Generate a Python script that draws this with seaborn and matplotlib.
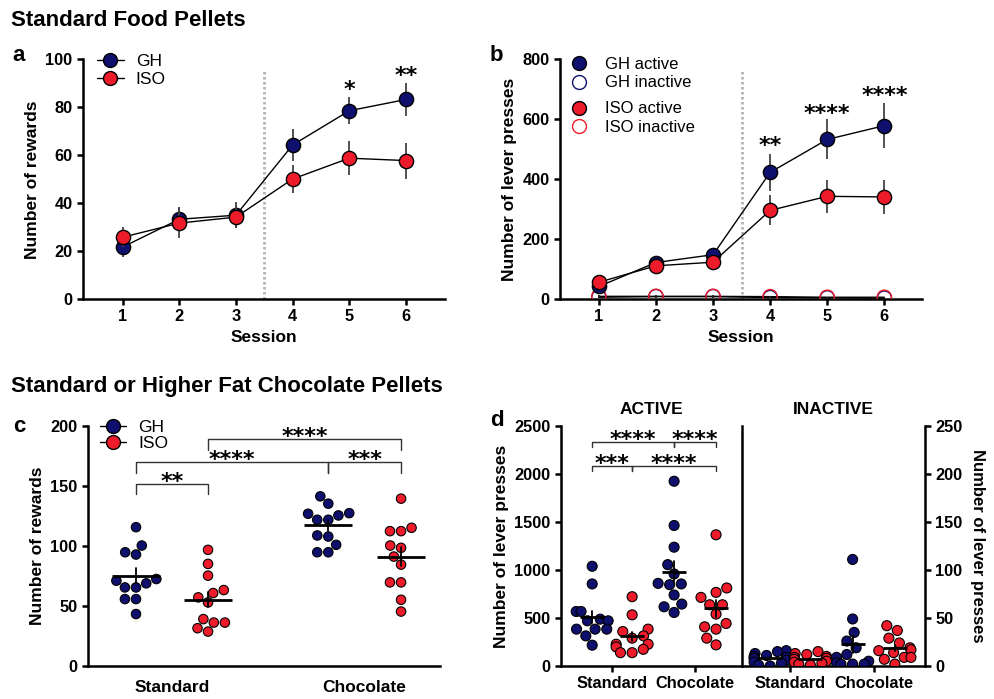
import numpy as np
import pandas as pd
import matplotlib
matplotlib.use("Agg")
import matplotlib.pyplot as plt
from matplotlib.lines import Line2D
import seaborn as sns

# ---- data ----
sessions = [1, 2, 3, 4, 5, 6]

# a: rewards (mean, sem)
a_gh = [21.7, 33.3, 35.0, 64.3, 78.6, 83.3]
a_gh_sem = [4.0, 5.0, 5.3, 6.5, 5.6, 7.0]
a_iso = [25.8, 31.7, 34.2, 50.1, 58.8, 57.8]
a_iso_sem = [4.2, 6.3, 4.6, 5.8, 7.0, 7.5]
a_stars = ["", "", "", "", "*", "**"]
a_star_y = [0, 0, 0, 0, 90, 96]

# b: lever presses (mean, sem)
b_gh_act = [42, 122, 148, 423, 533, 579]
b_gh_act_sem = [12, 15, 12, 63, 67, 76]
b_gh_inact = [6, 8, 8, 5, 4, 3]
b_iso_act = [56, 111, 123, 296, 343, 341]
b_iso_act_sem = [12, 20, 22, 50, 56, 56]
b_iso_inact = [9, 9, 9, 8, 6, 6]
b_inact_sem = [3, 3, 3, 3, 2, 2]
b_stars = ["", "", "", "**", "****", "****"]
b_star_y = [0, 0, 0, 533, 640, 700]

# c: rewards per rat, standard vs chocolate pellets
c_gh_std = [115.7, 100.4, 94.8, 92.9, 72.5, 68.9, 71.1, 65.5, 65.5, 55.8, 55.8, 43.3]
c_iso_std = [96.8, 85.1, 75.3, 63.3, 57.2, 60.8, 53.0, 39.1, 36.2, 31.5, 36.2, 28.7]
c_gh_choc = [141.4, 135.3, 126.9, 125.5, 127.4, 121.9, 121.9, 108.8, 107.9, 101.0, 94.8, 94.8]
c_iso_choc = [139.5, 115.2, 112.4, 112.4, 100.4, 98.5, 91.2, 84.5, 69.7, 69.7, 55.2, 45.4]
c_pos = [0, 1, 2.67, 3.68]
c_br_x1 = [0, 0, 2.67, 1]
c_br_x2 = [1, 2.67, 3.68, 3.68]
c_br_y = [152, 170, 170, 189]
c_br_lbl = ["**", "****", "***", "****"]

# d: lever presses per rat, active and inactive lever
d_act_gh_std = [1039, 855, 568, 568, 488, 471, 471, 384, 384, 384, 314, 217]
d_act_iso_std = [722, 533, 384, 359, 314, 290, 227, 227, 199, 174, 139, 139]
d_act_gh_choc = [1925, 1464, 1238, 1056, 959, 861, 855, 847, 740, 617, 645, 558]
d_act_iso_choc = [1367, 813, 767, 715, 638, 638, 541, 443, 384, 408, 290, 220]
d_in_gh_std = [16, 15, 13, 11, 10, 9, 8, 6, 4, 3, 1, 0]
d_in_iso_std = [15, 13, 12, 10, 9, 8, 7, 5, 4, 3, 2, 1]
d_in_gh_choc = [111, 49, 35, 26, 19, 12, 9, 5, 2, 2, 3.5, 2]
d_in_iso_choc = [42, 37, 29, 24, 19, 17, 14, 9, 9, 7, 2, 16]
d_pos = [0, 1, 2.05, 3.1]
d_br_x1 = [0, 2.05, 0, 1]
d_br_x2 = [2.05, 3.1, 1, 3.1]
d_br_y = [2336, 2336, 2086, 2086]
d_br_lbl = ["****", "****", "***", "****"]

groups = ["GH", "ISO", "GH", "ISO"]
NAVY = "#0f106e"
RED = "#ee1c2a"
palette = {"GH": NAVY, "ISO": RED}

sns.set_style("ticks")
plt.rcParams["font.family"] = ["Liberation Sans", "DejaVu Sans"]
for key in ["text.color", "axes.labelcolor", "axes.edgecolor", "xtick.color", "ytick.color"]:
    plt.rcParams[key] = "black"
plt.rcParams["axes.linewidth"] = 1.8
plt.rcParams["xtick.major.width"] = 1.8
plt.rcParams["ytick.major.width"] = 1.8
plt.rcParams["xtick.major.size"] = 4
plt.rcParams["ytick.major.size"] = 4

TICK = 11.8
LAB = 12.5
STAR = dict(fontsize=16, family="DejaVu Sans", fontweight="bold", ha="center", va="baseline")


def style_axis(ax):
    sns.despine(ax=ax)
    for lab in ax.get_xticklabels() + ax.get_yticklabels():
        lab.set_fontweight("bold")
        lab.set_fontsize(TICK)


def session_series(ax, mean, sem, face, edge, z, sem_col="#444444"):
    df = pd.DataFrame({"session": sessions, "mean": mean})
    sns.lineplot(data=df, x="session", y="mean", color="black", linewidth=1, ax=ax, zorder=z)
    if sem is not None:
        ax.errorbar(sessions, mean, yerr=sem, fmt="none", ecolor=sem_col, elinewidth=1.3, zorder=z)
    sns.scatterplot(data=df, x="session", y="mean", color=face, facecolor=face, edgecolor=edge,
                    s=105, linewidth=1, ax=ax, zorder=z + 0.5, legend=False)


def stars(ax, xs, ys, labels):
    for x, y, s in zip(xs, ys, labels):
        if s:
            ax.annotate(s, xy=(x, y), xytext=(0, -9), textcoords="offset points", **STAR)


def brackets(ax, x1s, x2s, ys, labels, drop, off=-3):
    for x1, x2, y, s in zip(x1s, x2s, ys, labels):
        ax.plot([x1, x1, x2, x2], [y - drop, y, y, y - drop], color="#333333", lw=1, clip_on=False)
        ax.annotate(s, xy=((x1 + x2) / 2, y), xytext=(0, off), textcoords="offset points", **STAR)


def dot_panel(ax, values, pos, size, meanw):
    df = pd.concat([pd.DataFrame({"pos": p, "group": g, "value": v})
                    for p, g, v in zip(pos, groups, values)], ignore_index=True)
    sns.swarmplot(data=df, x="pos", y="value", hue="group", palette=palette, native_scale=True,
                  size=size, edgecolor="black", linewidth=0.8, legend=False, warn_thresh=1, ax=ax)
    sns.pointplot(data=df, x="pos", y="value", native_scale=True, errorbar="se", color="black",
                  markers="_", markersize=meanw, markeredgewidth=2, linestyle="none",
                  err_kws={"linewidth": 1.3, "zorder": 6}, zorder=6, ax=ax)
    ax.set_xlabel("")
    ax.set_ylabel("")


fig = plt.figure(figsize=(9.94, 6.99), dpi=100)

# ---------------- a ----------------
ax = fig.add_axes([0.0835, 0.5722, 0.3642, 0.3427])
session_series(ax, a_gh, a_gh_sem, NAVY, "black", 2)
session_series(ax, a_iso, a_iso_sem, RED, "black", 3)
ax.axvline(3.5, 0, 0.95, color="#b4b4b4", lw=2, linestyle=(0, (0.9, 0.9)), zorder=1)
stars(ax, sessions, a_star_y, a_stars)
ax.set_xlim(0.3, 6.69)
ax.set_ylim(0, 100)
ax.set_xticks(sessions)
ax.set_yticks(range(0, 101, 20))
ax.set_xlabel("Session", fontsize=LAB, fontweight="bold")
ax.set_ylabel("Number of rewards", fontsize=LAB, fontweight="bold")
style_axis(ax)
h = [Line2D([0], [0], color="black", lw=1, marker="o", markersize=10, markerfacecolor=c,
            markeredgecolor="black") for c in (NAVY, RED)]
ax.legend(h, ["GH", "ISO"], loc="upper left", bbox_to_anchor=(0.016, 1.06), frameon=False,
          fontsize=12.5, handlelength=1.5, handletextpad=0.7, labelspacing=0.15, borderpad=0)

# ---------------- b ----------------
ax = fig.add_axes([0.5634, 0.5722, 0.3642, 0.3427])
session_series(ax, b_gh_inact, b_inact_sem, "none", NAVY, 2, sem_col="#222222")
session_series(ax, b_iso_inact, b_inact_sem, "none", RED, 2.2, sem_col="#222222")
session_series(ax, b_gh_act, b_gh_act_sem, NAVY, "black", 3)
session_series(ax, b_iso_act, b_iso_act_sem, RED, "black", 4)
ax.axvline(3.5, 0, 0.95, color="#b4b4b4", lw=2, linestyle=(0, (0.9, 0.9)), zorder=1)
stars(ax, sessions, b_star_y, b_stars)
ax.set_xlim(0.32, 6.66)
ax.set_ylim(0, 800)
ax.set_xticks(sessions)
ax.set_yticks(range(0, 801, 200))
ax.set_xlabel("Session", fontsize=LAB, fontweight="bold")
ax.set_ylabel("Number of lever presses", fontsize=LAB, fontweight="bold")
style_axis(ax)


def mk(face, edge):
    return Line2D([0], [0], lw=0, marker="o", markersize=10, markerfacecolor=face,
                  markeredgecolor=edge)


leg1 = ax.legend([mk(NAVY, "black"), mk("none", NAVY)], ["GH active", "GH inactive"],
                 loc="upper left", bbox_to_anchor=(0.002, 1.045), frameon=False, fontsize=12,
                 handlelength=1.2, handletextpad=0.95, labelspacing=0.2, borderpad=0)
ax.add_artist(leg1)
ax.legend([mk(RED, "black"), mk("none", RED)], ["ISO active", "ISO inactive"],
          loc="upper left", bbox_to_anchor=(0.002, 0.86), frameon=False, fontsize=12,
          handlelength=1.2, handletextpad=0.95, labelspacing=0.2, borderpad=0)

# ---------------- c ----------------
ax = fig.add_axes([0.0885, 0.0472, 0.3541, 0.3433])
dot_panel(ax, [c_gh_std, c_iso_std, c_gh_choc, c_iso_choc], c_pos, 6.8, 34)
brackets(ax, c_br_x1, c_br_x2, c_br_y, c_br_lbl, 9)
ax.set_xlim(-0.667, 4.22)
ax.set_ylim(0, 200)
ax.set_yticks(range(0, 201, 50))
ax.set_xticks([(c_pos[0] + c_pos[1]) / 2, (c_pos[2] + c_pos[3]) / 2], ["Standard", "Chocolate"])
ax.tick_params(axis="x", length=0, pad=10)
ax.set_ylabel("Number of rewards", fontsize=LAB, fontweight="bold")
style_axis(ax)
for lab in ax.get_xticklabels():
    lab.set_fontsize(12.5)
ax.legend(h, ["GH", "ISO"], loc="upper left", bbox_to_anchor=(0.01, 1.06), frameon=False,
          fontsize=12.5, handlelength=1.5, handletextpad=0.7, labelspacing=0.05, borderpad=0)

# ---------------- d ----------------
axl = fig.add_axes([0.5644, 0.0472, 0.1821, 0.3433])
dot_panel(axl, [d_act_gh_std, d_act_iso_std, d_act_gh_choc, d_act_iso_choc], d_pos, 7.2, 17)
brackets(axl, d_br_x1, d_br_x2, d_br_y, d_br_lbl, 50)
axl.set_xlim(-0.78, 3.75)
axl.set_ylim(0, 2500)
axl.set_yticks(range(0, 2501, 500))
axl.set_xticks([(d_pos[0] + d_pos[1]) / 2, (d_pos[2] + d_pos[3]) / 2], ["Standard", "Chocolate"])
axl.set_ylabel("Number of lever presses", fontsize=LAB, fontweight="bold")
axl.set_title("ACTIVE", fontsize=12.5, fontweight="bold", pad=9)
style_axis(axl)

axr = fig.add_axes([0.7465, 0.0472, 0.1841, 0.3433])
dot_panel(axr, [d_in_gh_std, d_in_iso_std, d_in_gh_choc, d_in_iso_choc], d_pos, 7.2, 17)
axr.set_xlim(-0.7, 3.85)
axr.set_ylim(0, 250)
axr.set_yticks(range(0, 251, 50))
axr.set_xticks([(d_pos[0] + d_pos[1]) / 2, (d_pos[2] + d_pos[3]) / 2], ["Standard", "Chocolate"])
axr.yaxis.tick_right()
axr.yaxis.set_label_position("right")
axr.set_ylabel("Number of lever presses", fontsize=12, fontweight="bold", rotation=270, labelpad=16)
axr.set_title("INACTIVE", fontsize=12.5, fontweight="bold", pad=9)
axr.spines["top"].set_visible(False)
for lab in axr.get_xticklabels() + axr.get_yticklabels():
    lab.set_fontweight("bold")
    lab.set_fontsize(TICK)

# ---------------- headers ----------------
fig.text(0.011, 0.971, "Standard Food Pellets", fontsize=16, fontweight="bold", va="center")
fig.text(0.011, 0.447, "Standard or Higher Fat Chocolate Pellets", fontsize=16, fontweight="bold", va="center")
for x, y, s in [(0.012, 0.921, "a"), (0.493, 0.921, "b"), (0.013, 0.39, "c"), (0.493, 0.398, "d")]:
    fig.text(x, y, s, fontsize=16, fontweight="bold", va="center")

fig.savefig("out.png", dpi=100)
